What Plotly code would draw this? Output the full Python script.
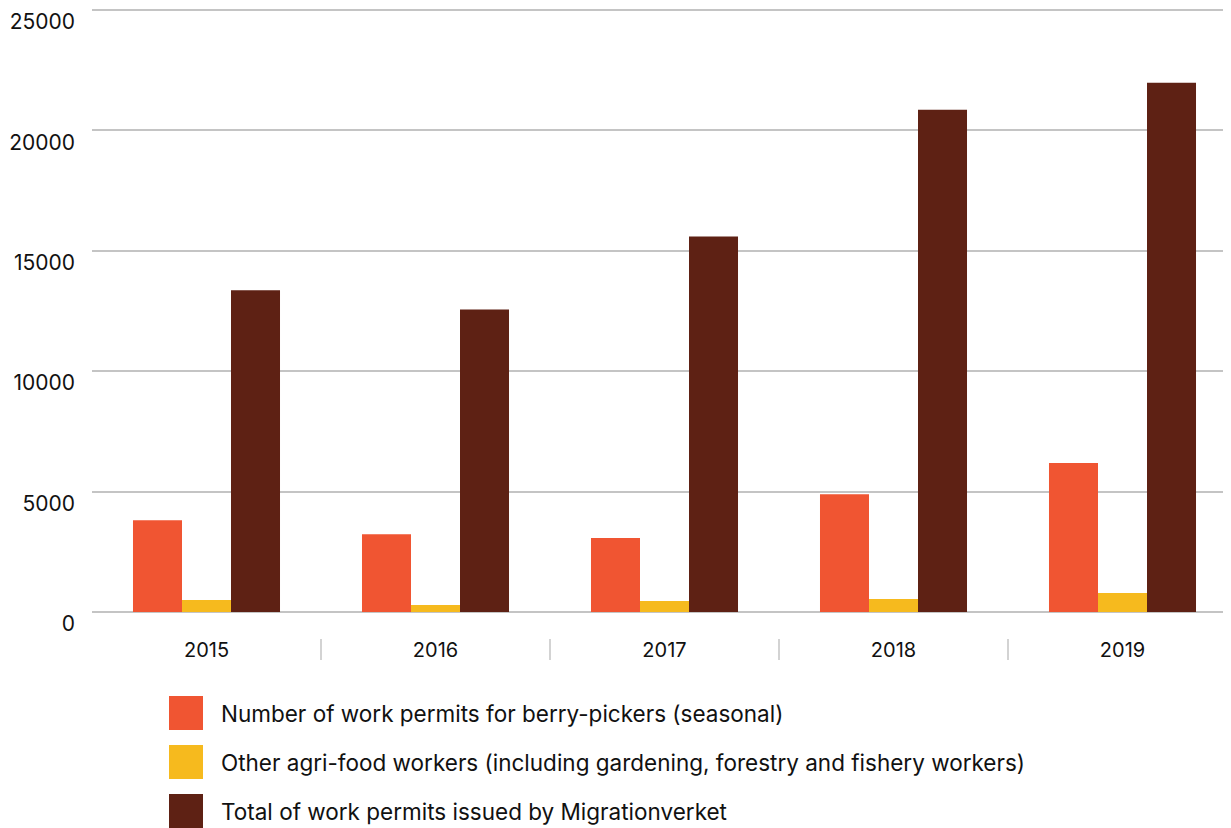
import plotly.graph_objects as go

years = ["2015", "2016", "2017", "2018", "2019"]
berry_pickers = [3810, 3230, 3070, 4890, 6180]
other_agrifood = [500, 290, 460, 540, 790]
total_permits = [13350, 12560, 15590, 20850, 21970]

series_names = [
    "Number of work permits for berry-pickers (seasonal)",
    "Other agri-food workers (including gardening, forestry and fishery workers)",
    "Total of work permits issued by Migrationverket",
]
series_colors = ["#F05532", "#F6BA1E", "#5E2114"]
y_tick_vals = [0, 5000, 10000, 15000, 20000, 25000]

FONT = "Inter"
OFF = 8  # default page body margin
W, H = 1231 - OFF, 828 - OFF
ML = 92 - OFF
MB = H - (612 - OFF)
MT = 0
Y_TOP = 25070
plot_w = W - ML
plot_h = H - MT - MB

def px_x(p):
    return (p - OFF - ML) / plot_w

def px_y(p):
    return (H - MB - (p - OFF)) / plot_h

fig = go.Figure()
for name, vals, col in zip(series_names, [berry_pickers, other_agrifood, total_permits], series_colors):
    fig.add_trace(go.Bar(x=years, y=vals, name=name, marker_color=col,
                         marker_line_width=0, showlegend=False))

cat_w = 229
fig.update_layout(
    width=W, height=H,
    margin=dict(l=ML, r=0, t=MT, b=MB, pad=0),
    plot_bgcolor="white", paper_bgcolor="white",
    barmode="group", bargap=0.358, bargroupgap=0,
    font=dict(family=FONT, size=20, color="#111111"),
    xaxis=dict(type="category", range=[-0.5, -0.5 + plot_w / cat_w], showgrid=False,
               showline=False, ticks="", ticklabelstandoff=24,
               tickfont=dict(size=20, family=FONT, color="#111111")),
    yaxis=dict(range=[0, Y_TOP], tickvals=y_tick_vals, tickformat="d", showgrid=True,
               gridcolor="#c4c4c4", gridwidth=1.5, zeroline=True, zerolinecolor="#c4c4c4",
               zerolinewidth=1.5, showline=False, ticks="", ticklabelstandoff=16,
               ticklabelshift=12,
               tickfont=dict(size=21, family=FONT, color="#111111")),
)

shapes = []
for i in range(len(years) - 1):
    shapes.append(dict(type="line", xref="x", yref="paper", x0=i + 0.5, x1=i + 0.5,
                       y0=px_y(639), y1=px_y(660), line=dict(color="#c4c4c4", width=1.5)))

annotations = []
row_centers = [713, 762, 811]
for name, col, cy in zip(series_names, series_colors, row_centers):
    shapes.append(dict(type="rect", xref="paper", yref="paper",
                       x0=px_x(169), x1=px_x(203), y0=px_y(cy - 17), y1=px_y(cy + 17),
                       fillcolor=col, line=dict(width=0)))
    annotations.append(dict(text=name, xref="paper", yref="paper", x=px_x(219), y=px_y(cy),
                            xanchor="left", yanchor="middle", showarrow=False,
                            font=dict(size=22.5, family=FONT, color="#111111")))

fig.update_layout(shapes=shapes, annotations=annotations)
fig.write_html("out.html")
